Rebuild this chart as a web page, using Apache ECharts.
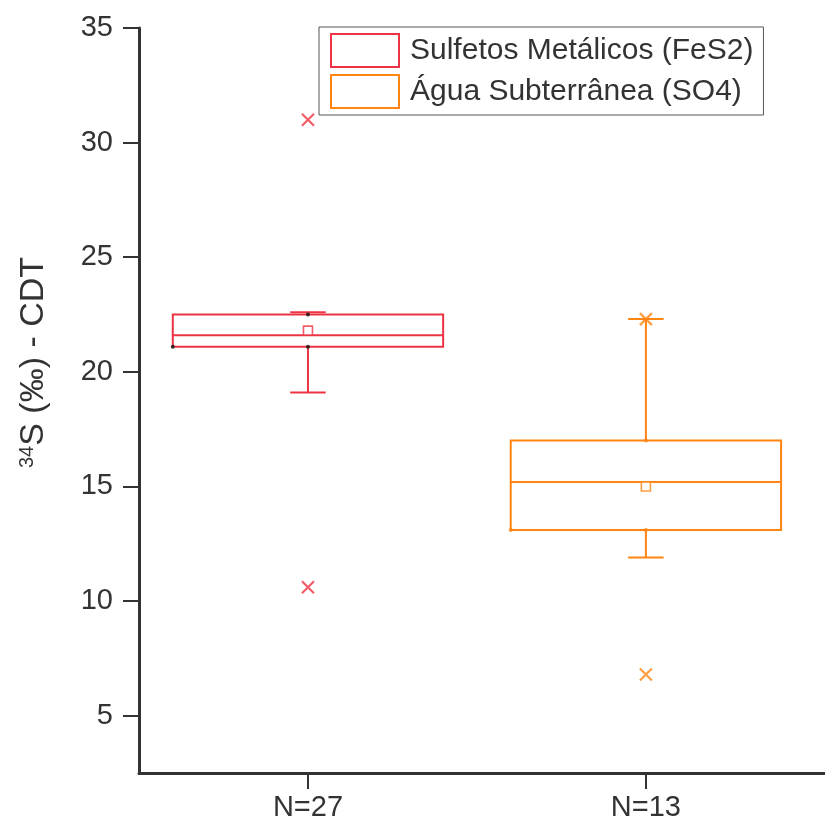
<!DOCTYPE html>
<html>
<head>
<meta charset="utf-8">
<script src="https://cdn.jsdelivr.net/npm/echarts@6/dist/echarts.min.js"></script>
<style>
html,body{margin:0;padding:0;background:#fff;}
#chart{width:825px;height:823px;}
</style>
</head>
<body>
<div id="chart"></div>
<script>
// ---- data ----
const categories = ['N=27', 'N=13'];
const seriesNames = ['Sulfetos Metálicos (FeS2)', 'Água Subterrânea (SO4)'];
const whiskerLow = [19.1, 11.9];
const q1 = [21.1, 13.1];
const median = [21.6, 15.2];
const q3 = [22.5, 17.0];
const whiskerHigh = [22.6, 22.3];
const mean = [21.8, 15.0];
const minVal = [10.6, 6.8];
const maxVal = [31.0, 22.3];
const yTicks = [5, 10, 15, 20, 25, 30, 35];
const colors = ['#EC3444', '#FF8411'];
const dotColors = ['#111111', '#FF8411'];

const FONT = '"Liberation Sans", Arial, Helvetica, sans-serif';
const BOX_W = 0.8;
const CAP_W = 0.105;

const chart = echarts.init(document.getElementById('chart'), null, {renderer: 'canvas'});

function makeRender(color) {
  return function (params, api) {
    const x = api.value(0);
    const pLo = api.coord([x, api.value(1)]);
    const pQ1 = api.coord([x, api.value(2)]);
    const pMed = api.coord([x, api.value(3)]);
    const pQ3 = api.coord([x, api.value(4)]);
    const pHi = api.coord([x, api.value(5)]);
    const halfW = api.size([BOX_W, 0])[0] / 2;
    const capHalf = api.size([CAP_W, 0])[0] / 2;
    const cx = pMed[0];
    const st = {stroke: color, lineWidth: 2, fill: null};
    return {
      type: 'group',
      children: [
        {type: 'rect', shape: {x: cx - halfW, y: pQ3[1], width: 2 * halfW, height: pQ1[1] - pQ3[1]}, style: {stroke: color, lineWidth: 2, fill: 'rgba(0,0,0,0)'}},
        {type: 'line', shape: {x1: cx - halfW, y1: pMed[1], x2: cx + halfW, y2: pMed[1]}, style: st},
        {type: 'line', shape: {x1: cx, y1: pQ3[1], x2: cx, y2: pHi[1]}, style: st},
        {type: 'line', shape: {x1: cx, y1: pQ1[1], x2: cx, y2: pLo[1]}, style: st},
        {type: 'line', shape: {x1: cx - capHalf, y1: pHi[1], x2: cx + capHalf, y2: pHi[1]}, style: st},
        {type: 'line', shape: {x1: cx - capHalf, y1: pLo[1], x2: cx + capHalf, y2: pLo[1]}, style: st}
      ]
    };
  };
}

const series = [];
seriesNames.forEach(function (name, i) {
  series.push({
    name: name,
    type: 'custom',
    renderItem: makeRender(colors[i]),
    itemStyle: {color: colors[i]},
    encode: {x: 0, y: [1, 2, 3, 4, 5]},
    data: [[i + 1, whiskerLow[i], q1[i], median[i], q3[i], whiskerHigh[i]]],
    z: 2
  });
  series.push({
    type: 'scatter',
    symbol: 'rect',
    symbolSize: 9,
    itemStyle: {color: '#fff', borderColor: colors[i], borderWidth: 1.6},
    data: [[i + 1, mean[i]]],
    z: 3,
    silent: true
  });
  series.push({
    type: 'scatter',
    symbol: 'path://M0,0L10,10M10,0L0,10',
    symbolSize: 12,
    itemStyle: {color: 'rgba(0,0,0,0)', borderColor: colors[i], borderWidth: 2.2},
    data: [[i + 1, minVal[i]], [i + 1, maxVal[i]]],
    z: 4,
    silent: true
  });
  series.push({
    type: 'scatter',
    symbol: 'circle',
    symbolSize: 4,
    itemStyle: {color: dotColors[i]},
    data: [[i + 1, q1[i]], [i + 1, q3[i]], [i + 1 - BOX_W / 2, q1[i]]],
    z: 5,
    silent: true
  });
});

const option = {
  backgroundColor: '#fff',
  animation: false,
  textStyle: {fontFamily: FONT},
  grid: {left: 139, right: 0, top: 28, bottom: 50},
  legend: {
    orient: 'vertical',
    left: 319,
    top: 27,
    borderColor: '#555',
    borderWidth: 1,
    borderRadius: 0,
    padding: [6, 10, 6, 11],
    itemWidth: 68,
    itemHeight: 33,
    itemGap: 6,
    selectedMode: false,
    textStyle: {fontSize: 30, lineHeight: 33, color: '#333', fontFamily: FONT, padding: [0, 0, 0, 6]},
    data: seriesNames.map(function (n, i) {
      return {name: n, icon: 'rect', itemStyle: {color: '#fff', borderColor: colors[i], borderWidth: 2}};
    })
  },
  xAxis: {
    type: 'value',
    min: 0.5,
    max: 2.53,
    splitLine: {show: false},
    axisLine: {show: true, lineStyle: {color: '#333', width: 3}},
    axisTick: {show: true, customValues: [1, 2], length: 16, lineStyle: {color: '#333', width: 2}},
    axisLabel: {
      customValues: [1, 2],
      fontSize: 29, color: '#333', fontFamily: FONT, margin: 20,
      formatter: function (v) { return categories[Math.round(v) - 1]; }
    }
  },
  yAxis: [{
    type: 'value',
    min: 2.5,
    max: 35,
    splitLine: {show: false},
    axisLine: {show: true, lineStyle: {color: '#333', width: 3}},
    axisTick: {show: true, customValues: yTicks, length: 16, lineStyle: {color: '#333', width: 2}},
    axisLabel: {customValues: yTicks, fontSize: 29, color: '#333', fontFamily: FONT, margin: 26},
    name: '{sup|34}S (‰) - CDT',
    nameLocation: 'middle',
    nameGap: 88,
    nameTextStyle: {
      fontSize: 34, color: '#333', fontFamily: FONT,
      padding: [0, 0, 0, 76],
      rich: {sup: {fontSize: 20, color: '#333', fontFamily: FONT, verticalAlign: 'top', padding: [0, 0, 14, 0]}}
    }
  }, {
    type: 'value',
    min: 2.5,
    max: 35,
    interval: 5,
    splitLine: {show: false},
    axisLine: {show: false},
    axisTick: {show: true, length: 9, lineStyle: {color: '#333', width: 2}},
    axisLabel: {show: false}
  }],
  series: series
};
chart.setOption(option);
</script>
</body>
</html>
